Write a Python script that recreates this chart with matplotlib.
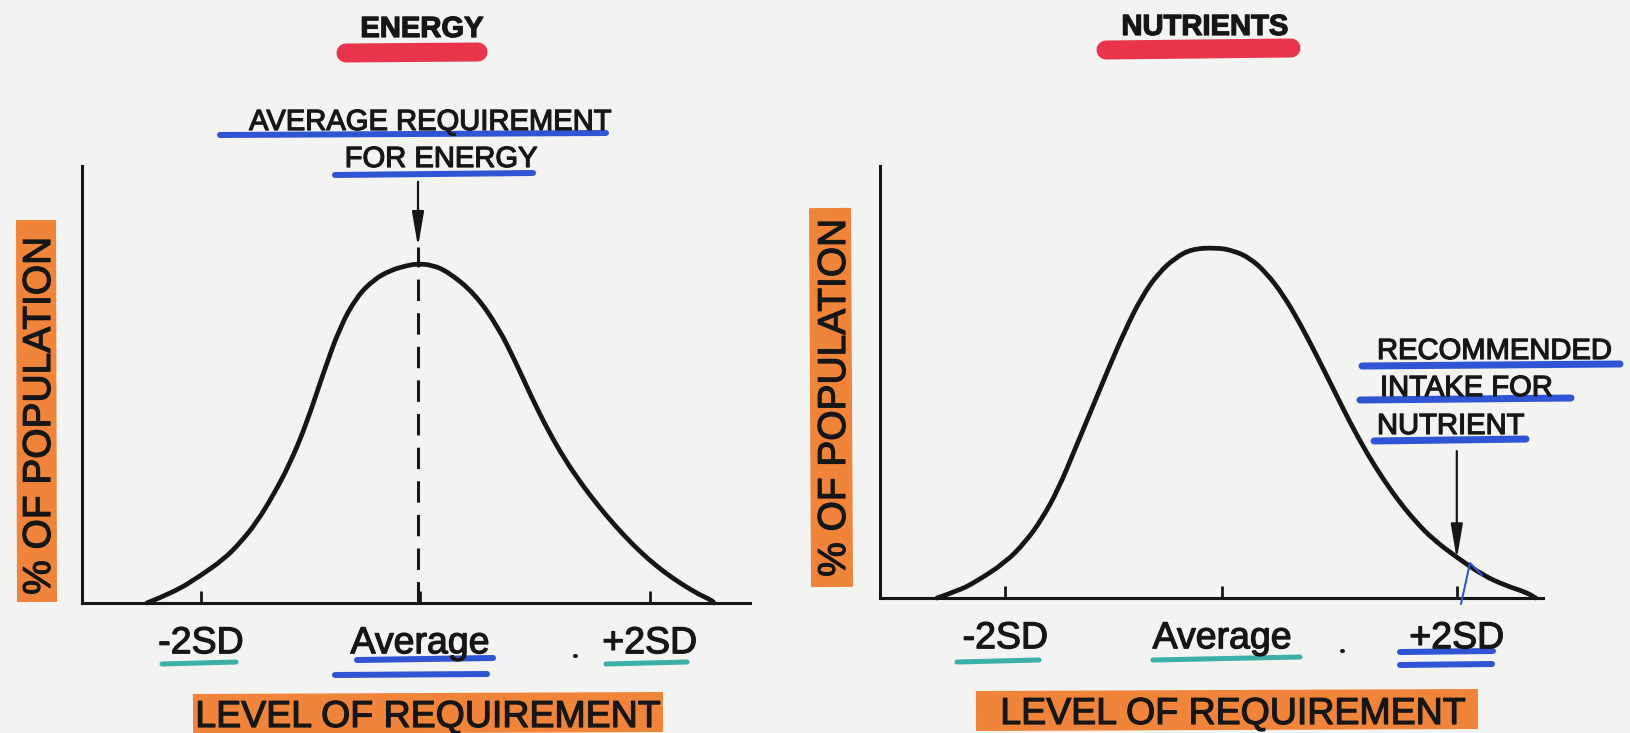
import matplotlib
matplotlib.use("Agg")
import matplotlib.pyplot as plt
import matplotlib.patheffects as pe
from matplotlib.lines import Line2D
from matplotlib.path import Path
from matplotlib.patches import PathPatch

plt.rcParams['font.family'] = ['Liberation Sans', 'DejaVu Sans']

# level of requirement (0-100 along the x axis) and % of population (0-100 along the y axis)
energy_x = [9.7, 13.7, 17.7, 21.2, 23.7, 26.2, 28.6, 31.1, 33.6, 36.1, 38.6, 41.1, 43.6, 46.1,
            48.6, 50.1, 52.3, 54.8, 58.8, 62.3, 64.8, 67.3, 69.8, 72.3, 74.8, 77.3, 79.8, 82.3,
            84.8, 87.3, 89.8, 92.3, 94.3, 94.6]
energy_y = [0, 2.4, 6.2, 10.0, 13.8, 18.6, 24.6, 31.8, 41.0, 52.5, 63.1, 70.0, 73.9, 76.1,
            77.2, 77.6, 77.4, 75.8, 70.8, 63.1, 55.5, 47.1, 39.4, 32.8, 27.2, 22.2, 17.7, 13.6,
            10.0, 6.9, 4.3, 2.0, 0.6, 0]

nutrient_x = [8.6, 11.8, 14.3, 18.9, 21.9, 24.4, 26.9, 29.4, 31.9, 34.4, 37.0, 39.5, 42.0, 44.5,
              47.0, 50.8, 53.3, 55.8, 58.3, 60.8, 63.3, 65.9, 68.4, 70.9, 73.4, 75.9, 78.4, 80.9,
              83.4, 87.0, 91.0, 94.5, 97.5, 98.9]
nutrient_y = [0, 1.7, 3.6, 8.2, 12.9, 18.2, 25.2, 34.4, 43.6, 52.9, 62.1, 69.8, 75.2, 78.7,
              80.8, 81.1, 80.4, 78.7, 75.2, 70.2, 63.7, 56.0, 48.3, 40.6, 33.6, 27.5, 22.1, 17.5,
              13.6, 9.4, 5.2, 2.8, 1.3, 0]

tick_labels = ["-2SD", "Average", "+2SD"]
energy_ticks = [17.8, 50.6, 85.0]
nutrient_ticks = [18.9, 51.6, 87.0]

energy_avg = 50.3        # average requirement for energy
energy_arrow = [96.4, 81.5]
nutrient_rec = 87.0      # recommended intake for nutrient
nutrient_arrow = [34.0, 9.0]

W, H = 1630, 733
RED, ORANGE, BLUE, TEAL = '#e8354c', '#f0843a', '#2f55d4', '#3bb0a6'
INK = '#161616'
BOLDEN = [pe.withStroke(linewidth=0.9, foreground=INK)]

fig = plt.figure(figsize=(W / 100, H / 100), dpi=100, facecolor='#f3f3f1')


def box(x0, x1, ybot, ytop):
    return [x0 / W, 1 - ybot / H, (x1 - x0) / W, (ybot - ytop) / H]


def stroke(xs, ys, color, width, cap='round', z=1):
    fig.add_artist(Line2D([x / W for x in xs], [1 - y / H for y in ys], lw=width * 0.72,
                          color=color, solid_capstyle=cap, transform=fig.transFigure, zorder=z))


def label(x, y, s, **kw):
    fig.text(x / W, 1 - y / H, s, color=INK, zorder=3, path_effects=BOLDEN, **kw)


def smooth(xs, ys):
    # quadratic segments through midpoints, using the read points as control points
    pts = list(zip(xs, ys))
    verts, codes = [pts[0]], [Path.MOVETO]
    for i in range(1, len(pts) - 1):
        nxt = pts[i + 1]
        verts += [pts[i], ((pts[i][0] + nxt[0]) / 2, (pts[i][1] + nxt[1]) / 2)]
        codes += [Path.CURVE3, Path.CURVE3]
    verts.append(pts[-1])
    codes.append(Path.LINETO)
    return Path(verts, codes)


def panel(ax, xs, ys, ticks):
    ax.set_xlim(0, 100)
    ax.set_ylim(0, 100)
    ax.patch.set_alpha(0)
    ax.set_zorder(2)
    for s in ['top', 'right']:
        ax.spines[s].set_visible(False)
    for s in ['left', 'bottom']:
        ax.spines[s].set_linewidth(2.2)
        ax.spines[s].set_color(INK)
    ax.set_yticks([])
    ax.set_xticks(ticks, tick_labels, fontsize=27, color=INK)
    for t in ax.get_xticklabels():
        t.set_path_effects(BOLDEN)
    ax.tick_params(axis='x', direction='in', length=9, width=2, pad=16, color=INK)
    ax.add_patch(PathPatch(smooth(xs, ys), fill=False, ec=INK, lw=3.4, capstyle='round',
                           joinstyle='round', clip_on=False))


arrow_style = dict(arrowstyle='-|>,head_length=0.7,head_width=0.12', color=INK, lw=1.6,
                   mutation_scale=30, shrinkA=0, shrinkB=0)

axL = fig.add_axes(box(82, 750, 603, 166))
panel(axL, energy_x, energy_y, energy_ticks)
axL.plot([energy_avg, energy_avg], [0, energy_arrow[1]], color=INK, lw=2.2, ls=(0, (7, 4)))
axL.annotate('', xy=(energy_avg, energy_arrow[1]), xytext=(energy_avg, energy_arrow[0]),
             arrowprops=arrow_style)

axR = fig.add_axes(box(880, 1543, 598, 166))
panel(axR, nutrient_x, nutrient_y, nutrient_ticks)
axR.annotate('', xy=(nutrient_rec, nutrient_arrow[1]), xytext=(nutrient_rec, nutrient_arrow[0]),
             arrowprops=arrow_style)

# highlighter marks
stroke([346, 478], [53, 52], RED, 19)
stroke([1106, 1291], [50, 48], RED, 19)
stroke([220, 606], [135, 133], BLUE, 6)
stroke([335, 533], [175, 173], BLUE, 6)
stroke([1362, 1620], [366, 364], BLUE, 7)
stroke([1360, 1571], [400, 398], BLUE, 7)
stroke([1374, 1526], [441, 439], BLUE, 7)
stroke([36, 37], [220, 602], ORANGE, 40, cap='butt')
stroke([830, 832], [208, 587], ORANGE, 42, cap='butt')
stroke([193, 663], [714, 712], ORANGE, 40, cap='butt')
stroke([976, 1478], [711, 709], ORANGE, 40, cap='butt')
stroke([162, 236], [664, 662], TEAL, 5)
stroke([357, 493], [660, 658], BLUE, 6)
stroke([335, 487], [675, 674], BLUE, 6)
stroke([606, 687], [664, 662], TEAL, 5)
stroke([957, 1039], [662, 660], TEAL, 5)
stroke([1153, 1300], [660, 657], TEAL, 5)
stroke([1400, 1493], [652, 651], BLUE, 6)
stroke([1400, 1492], [665, 664], BLUE, 6)
stroke([1461, 1470, 1482], [604, 563, 575], BLUE, 2, z=3)

# small printed dots before "+2SD"
stroke([575, 576], [656, 656], INK, 4)
stroke([1342, 1343], [651, 651], INK, 4)

# texts
label(422, 37, 'ENERGY', ha='center', va='baseline', fontsize=21, weight='bold')
label(1205, 35, 'NUTRIENTS', ha='center', va='baseline', fontsize=21, weight='bold')
label(430, 130, 'AVERAGE REQUIREMENT', ha='center', va='baseline', fontsize=21)
label(441, 167, 'FOR ENERGY', ha='center', va='baseline', fontsize=21)
label(1377, 359, 'RECOMMENDED', ha='left', va='baseline', fontsize=21)
label(1380, 396, 'INTAKE FOR', ha='left', va='baseline', fontsize=21)
label(1377, 434, 'NUTRIENT', ha='left', va='baseline', fontsize=21)
label(40, 416, '% OF POPULATION', ha='center', va='center', rotation=90, fontsize=28)
label(835, 398, '% OF POPULATION', ha='center', va='center', rotation=90, fontsize=28)
label(428, 727, 'LEVEL OF REQUIREMENT', ha='center', va='baseline', fontsize=27)
label(1233, 724, 'LEVEL OF REQUIREMENT', ha='center', va='baseline', fontsize=27)

fig.savefig('out.png', dpi=100, facecolor=fig.get_facecolor())
